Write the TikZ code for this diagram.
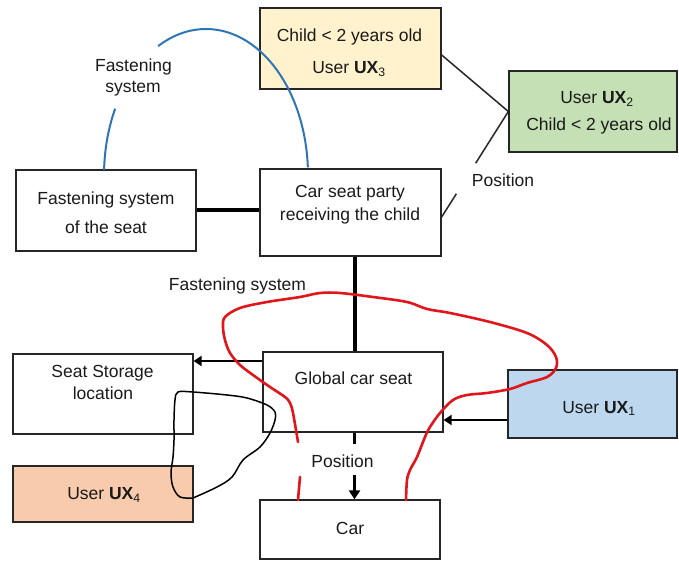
\documentclass[tikz,border=0pt]{standalone}
\usepackage{fontspec}
\setmainfont{Liberation Sans}
\usetikzlibrary{arrows.meta,calc}
\definecolor{cyellow}{HTML}{FFF2CC}
\definecolor{cgreen}{HTML}{C5E0B4}
\definecolor{cpeach}{HTML}{F8CBAD}
\definecolor{cblue}{HTML}{BDD7EE}
\definecolor{arcblue}{HTML}{2E75B6}
\definecolor{penred}{HTML}{E0161B}
\definecolor{txt}{HTML}{1A1A1A}
\begin{document}
\begin{tikzpicture}[x=1pt,y=-1pt,
  box/.style={draw=black!85, line width=1.3pt, inner sep=0pt, fill=white},
  lbl/.style={inner sep=0pt, text height=12.3pt, text depth=0pt, text=txt,
              font=\fontsize{17.5}{21}\selectfont},
  thickc/.style={line width=4pt, black},
  arr/.style={line width=2.8pt, black, -{Triangle[length=8pt,width=10pt]}},
  varr/.style={line width=3.4pt, black, -{Triangle[length=9pt,width=11pt]}},
  midc/.style={line width=3.4pt, black},
  thinc/.style={line width=1.5pt, black!85},
  bluec/.style={line width=2pt, arcblue},
  redc/.style={line width=2.6pt, penred, line cap=round, line join=round},
  penc/.style={line width=1.5pt, black, line cap=round, line join=round}]
\useasboundingbox (0,0) rectangle (679,561);
% boxes
\node[box, fill=cyellow, minimum width=181pt, minimum height=81pt] (ux3) at (350.5,48.5) {};
\node[box, fill=cgreen, minimum width=168pt, minimum height=81pt] (ux2) at (593,111.5) {};
\node[box, minimum width=180pt, minimum height=81pt] (fss) at (106,210.5) {};
\node[box, minimum width=181pt, minimum height=87pt] (csp) at (350.5,212.5) {};
\node[box, minimum width=180pt, minimum height=80pt] (gcs) at (353,392) {};
\node[box, minimum width=180pt, minimum height=80pt] (ssl) at (103,394) {};
\node[box, fill=cpeach, minimum width=180pt, minimum height=56pt] (ux4) at (103,494) {};
\node[box, fill=cblue, minimum width=169pt, minimum height=68pt] (ux1) at (592.5,404) {};
\node[box, minimum width=180pt, minimum height=59pt] (car) at (350,529.5) {};
% texts
\node[lbl] (ux3a) at (349.5,35) {Child < 2 years old};
\node[lbl] (ux3b) at (349,67.5) {User \textbf{UX}\textsubscript{3}};
\node[lbl] (ux2a) at (597,97.5) {User \textbf{UX}\textsubscript{2}};
\node[lbl] (ux2b) at (599,124) {Child < 2 years old};
\node[lbl] (fssa) at (106,198) {Fastening system};
\node[lbl] (fssb) at (106,227.5) {of the seat};
\node[lbl] (cspa) at (350,191) {Car seat party};
\node[lbl] (cspb) at (350,214) {receiving the child};
\node[lbl] (gcsa) at (353.5,378) {Global car seat};
\node[lbl] (ssla) at (102.5,371.5) {Seat Storage};
\node[lbl] (sslb) at (103,393.5) {location};
\node[lbl] (ux4a) at (104,493.5) {User \textbf{UX}\textsubscript{4}};
\node[lbl] (ux1a) at (599,407) {User \textbf{UX}\textsubscript{1}};
\node[lbl] (cara) at (350,528) {Car};
\node[lbl] (fsla) at (133.5,65) {Fastening};
\node[lbl] (fslb) at (133,86) {system};
\node[lbl] (fsl2) at (237.5,284) {Fastening system};
\node[lbl] (pos1) at (503,180) {Position};
\node[lbl] (pos2) at (342.5,461) {Position};
% helper coordinates
\coordinate (h1) at (0,361);
\coordinate (h2) at (0,420);
\coordinate (h3) at (354.5,444);
\coordinate (h4) at (354.5,475);
\coordinate (h5) at (0,55);
\coordinate (h6) at (0,217);
\coordinate (h7) at (354.5,0);
% connectors
\draw[thickc] (fss.east) -- (fss.east -| csp.west);
\draw[thickc] (csp.south -| h7) -- (gcs.north -| h7);
\draw[arr] (gcs.west |- h1) -- (ssl.east |- h1);
\draw[arr] (ux1.west |- h2) -- (gcs.east |- h2);
\draw[midc] (gcs.south -| h3) -- (h3);
\draw[varr] (h4) -- (car.north -| h4);
\draw[thinc] (ux3.east |- h5) -- (ux2.west);
\coordinate (p0) at (csp.east |- h6);
\draw[thinc] (p0) -- ($(p0)!0.22!(ux2.west)$);
\draw[thinc] ($(p0)!0.51!(ux2.west)$) -- (ux2.west);
% blue arc
\draw[bluec] (104.1,169.9) arc[start angle=178, end angle=153, x radius=102pt, y radius=146pt];
\draw[bluec] (158.1,46.1) arc[start angle=118, end angle=3, x radius=102pt, y radius=146pt];
% red freehand
\draw[redc] (298,500) -- (300,477);
\draw[redc] plot[smooth, tension=0.55] coordinates {(298,442) (293,413) (290,403) (285,397) (270,387) (253,375) (240,365) (230,353) (225,340) (223,327) (225,317) (240,308) (267,302) (300,297) (320,293) (340,293) (373,297) (407,302) (427,309) (450,313) (490,322) (527,333) (547,345) (556,357) (556,368) (547,377) (527,383) (510,389) (487,393) (467,395) (453,400) (440,413) (430,427) (425,437) (417,457) (410,470) (407,480) (406,500)};
% black freehand
\draw[penc] plot[smooth, tension=0.55] coordinates {(193,498) (180,497) (173,487) (171,473) (173,457) (174,440) (174,420) (175,400) (178,392) (193,392) (227,395) (247,398) (267,405) (275,412) (275,420) (270,433) (260,447) (243,460) (232,477) (217,487) (193,498)};
\end{tikzpicture}
\end{document}
